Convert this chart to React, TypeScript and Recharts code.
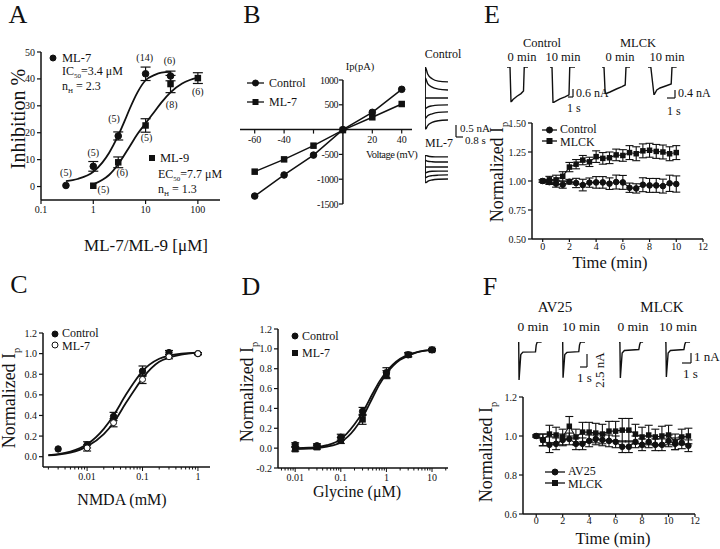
import React from "react";
import { ComposedChart, Line, XAxis, YAxis, ErrorBar, ReferenceDot, ReferenceLine } from "recharts";

const FONT = '"Liberation Serif", "Times New Roman", Times, serif';
const INK = "#111";

// ─── Panel A: inhibition dose-response ───────────────────────────────────────
const aMl7X = [0.3, 1, 3, 10, 30];
const aMl7Y = [0.4, 7.5, 18.8, 41.9, 41.1];
const aMl7Err = [0, 1.8, 1.5, 2.5, 1.8];
const aMl9X = [1, 3, 10, 30, 100];
const aMl9Y = [0.3, 9, 22.7, 38.1, 40.3];
const aMl9Err = [0, 2, 2.5, 3.2, 2];
const aMl7FitX = [0.3, 0.5, 1, 1.5, 2, 3, 4, 5, 7, 10, 15, 20, 30];
const aMl7FitY = [2, 2.8, 5.5, 9, 12.5, 19, 24.5, 29, 35, 39.5, 41.5, 42.3, 42.6];
const aMl9FitX = [1, 1.5, 2, 3, 5, 7, 10, 15, 20, 30, 50, 70, 100];
const aMl9FitY = [0.8, 2.5, 4.3, 8.3, 15, 19.5, 23.5, 28, 31.2, 35, 38.3, 39.6, 40.5];
const aNX = [0.3, 1, 2.5, 9.6, 28.8, 1.56, 3.6, 10.4, 31.6, 100];
const aNY = [5.2, 12.6, 25.2, 48.1, 46.7, -1.1, 5.2, 18.1, 30.4, 35.2];
const aNText = ["(5)", "(5)", "(5)", "(14)", "(6)", "(5)", "(6)", "(5)", "(8)", "(6)"];
const aXTicks = [0.1, 1, 10, 100];
const aYTicks = [0, 10, 20, 30, 40, 50];

// ─── Panel B: I-V relation ───────────────────────────────────────────────────
const bVolt = [-60, -40, -20, 0, 20, 40];
const bCtrl = [-1340, -915, -514, 0, 348, 812];
const bMl7 = [-848, -600, -324, -10, 248, 516];
const bXTicks = [-60, -40, -20, 20, 40];
const bXLabels = ["-60", "-40", "", "20", "40"];
const bYTicks = [1000, 500, -500, -1000, -1500];
const bTrT = [0, 0.03, 0.3, 0.8, 1.5, 2.6];
const bCtrlTr = [
  [0, 1.29, 1.0, 0.8, 0.7, 0.67],
  [0, 0.83, 0.6, 0.45, 0.37, 0.33],
  [0, 0, 0, 0, 0, 0],
  [0, -0.45, -0.38, -0.33, -0.3, -0.29],
  [0, -0.85, -0.74, -0.66, -0.6, -0.58],
  [0, -1.32, -1.15, -1.02, -0.95, -0.92],
];
const bMl7Tr = [
  [0, 0.5, 0.46, 0.43, 0.42, 0.42],
  [0, 0.28, 0.24, 0.22, 0.21, 0.21],
  [0, 0, 0, 0, 0, 0],
  [0, -0.25, -0.21, -0.18, -0.17, -0.17],
  [0, -0.45, -0.4, -0.36, -0.34, -0.33],
  [0, -0.68, -0.6, -0.54, -0.51, -0.5],
];

// ─── Panel C: NMDA ───────────────────────────────────────────────────────────
const cCtrlX = [0.003, 0.01, 0.03, 0.1, 0.3, 1];
const cCtrlY = [0.075, 0.115, 0.39, 0.83, 1.01, 1.0];
const cCtrlErr = [0, 0.03, 0.04, 0.05, 0.02, 0.01];
const cMl7X = [0.01, 0.03, 0.1, 0.3, 1];
const cMl7Y = [0.085, 0.33, 0.75, 0.97, 1.0];
const cMl7Err = [0.03, 0.04, 0.04, 0.02, 0.01];
const cFitX = [0.002, 0.003, 0.005, 0.01, 0.02, 0.03, 0.05, 0.07, 0.1, 0.2, 0.3, 0.5, 1];
const cCtrlFit = [0.015, 0.025, 0.05, 0.12, 0.27, 0.4, 0.6, 0.72, 0.83, 0.95, 0.98, 1.0, 1.01];
const cMl7Fit = [0.012, 0.02, 0.04, 0.1, 0.22, 0.33, 0.52, 0.64, 0.76, 0.92, 0.96, 0.99, 1.01];
const cMajor = [0.01, 0.1, 1];
const cYTicks = [0, 0.2, 0.4, 0.6, 0.8, 1.0, 1.2];

// ─── Panel D: glycine ────────────────────────────────────────────────────────
const dX = [0.01, 0.03, 0.1, 0.3, 1, 3, 10];
const dCtrlY = [0.034, 0.024, 0.11, 0.37, 0.76, 0.94, 0.99];
const dCtrlErr = [0.02, 0.02, 0.03, 0.04, 0.05, 0.02, 0.01];
const dMl7Y = [-0.01, 0.01, 0.077, 0.29, 0.74, 0.94, 0.99];
const dMl7Err = [0.02, 0.02, 0.03, 0.05, 0.04, 0.02, 0.01];
const dFitX = [0.01, 0.02, 0.03, 0.05, 0.1, 0.2, 0.3, 0.5, 0.7, 1, 2, 3, 5, 10];
const dCtrlFit = [0.0, 0.005, 0.01, 0.03, 0.09, 0.24, 0.36, 0.55, 0.67, 0.77, 0.9, 0.94, 0.97, 0.99];
const dMl7Fit = [-0.01, -0.005, 0.0, 0.015, 0.06, 0.19, 0.31, 0.51, 0.64, 0.75, 0.89, 0.93, 0.97, 0.99];
const dMajor = [0.01, 0.1, 1, 10];
const dYTicks = [-0.2, 0, 0.2, 0.4, 0.6, 0.8, 1.0, 1.2];

// ─── Panel E: MLCK time course ───────────────────────────────────────────────
const eTime = [0, 0.5, 1, 1.5, 2, 2.5, 3, 3.5, 4, 4.5, 5, 5.5, 6, 6.5, 7, 7.5, 8, 8.5, 9, 9.5, 10];
const eCtrl = [1.0, 0.99, 0.977, 0.968, 0.994, 0.983, 0.965, 0.986, 0.988, 0.988, 0.977, 0.991, 0.988, 0.942, 0.936, 0.968, 0.962, 0.962, 0.956, 0.98, 0.974];
const eCtrlErr = [0.01, 0.02, 0.03, 0.03, 0.02, 0.04, 0.05, 0.04, 0.05, 0.05, 0.05, 0.06, 0.06, 0.04, 0.04, 0.06, 0.06, 0.06, 0.06, 0.07, 0.07];
const eMlck = [1.0, 1.01, 1.01, 1.04, 1.12, 1.145, 1.18, 1.165, 1.21, 1.195, 1.2, 1.225, 1.22, 1.245, 1.235, 1.26, 1.265, 1.255, 1.25, 1.235, 1.245];
const eMlckErr = [0.01, 0.03, 0.04, 0.04, 0.04, 0.04, 0.04, 0.04, 0.05, 0.05, 0.05, 0.05, 0.05, 0.06, 0.06, 0.06, 0.06, 0.06, 0.06, 0.06, 0.06];
const eXTicks = [0, 2, 4, 6, 8, 10, 12];
const eYTicks = [0.5, 0.75, 1.0, 1.25, 1.5];
const eTr = [
  { left: 507, sx: 5, sy: 13.3, t: [0, 0.6, 0.8, 1.2, 2.0, 2.8, 3.3, 3.45, 4.2], v: [0, 0, -2.65, -2.45, -2.2, -2.0, -1.8, 0, 0] },
  { left: 550, sx: 5, sy: 13.3, t: [0, 0.4, 0.6, 1.0, 2.0, 3.0, 3.8, 3.95, 5.0], v: [0, 0, -2.7, -2.6, -2.4, -2.25, -2.1, 0, 0] },
  { left: 602, sx: 8, sy: 20, t: [0, 0.25, 0.4, 1.0, 1.8, 2.5, 2.9, 3.0, 3.5], v: [0, 0, -1.35, -1.25, -1.1, -0.98, -0.9, 0, 0] },
  { left: 648, sx: 8, sy: 20, t: [0, 0.35, 0.75, 1.1, 1.5, 2.2, 2.9, 3.0, 3.6], v: [0, 0, -1.4, -1.15, -1.05, -0.95, -0.85, 0, 0] },
];

// ─── Panel F: AV25 time course ───────────────────────────────────────────────
const fTime = [0, 0.5, 1, 1.5, 2, 2.5, 3, 3.5, 4, 4.5, 5, 5.5, 6, 6.5, 7, 7.5, 8, 8.5, 9, 9.5, 10, 10.5, 11, 11.5];
const fAv = [1.0, 0.98, 0.955, 0.96, 0.98, 0.985, 0.96, 0.96, 0.975, 0.985, 0.98, 0.975, 0.97, 0.945, 0.945, 0.97, 0.955, 0.97, 0.955, 0.955, 0.975, 0.96, 0.965, 0.95];
const fAvErr = [0.005, 0.03, 0.04, 0.03, 0.03, 0.03, 0.03, 0.03, 0.03, 0.03, 0.03, 0.03, 0.03, 0.03, 0.03, 0.03, 0.03, 0.03, 0.03, 0.03, 0.03, 0.03, 0.03, 0.03];
const fMlck = [1.0, 0.98, 1.01, 1.005, 0.995, 1.05, 0.995, 1.02, 1.02, 1.015, 1.01, 1.025, 1.025, 1.03, 1.03, 1.01, 0.995, 1.005, 0.995, 1.0, 1.005, 0.97, 0.995, 1.0];
const fMlckErr = [0.005, 0.03, 0.045, 0.04, 0.04, 0.05, 0.04, 0.05, 0.05, 0.05, 0.05, 0.05, 0.05, 0.06, 0.06, 0.05, 0.05, 0.05, 0.04, 0.05, 0.05, 0.04, 0.04, 0.04];
const fXTicks = [0, 2, 4, 6, 8, 10, 12];
const fYTicks = [0.6, 0.8, 1.0, 1.2];
const fTr = [
  { left: 518, sx: 7, sy: 5.2, t: [0, 0.1, 0.15, 0.4, 0.7, 2.5, 2.6, 2.75, 3.4], v: [0, 0, -7.3, -2.4, -1.95, -1.9, -0.6, 0, 0] },
  { left: 562, sx: 7, sy: 5.2, t: [0, 0.1, 0.15, 0.4, 0.7, 2.4, 2.5, 2.65, 3.3], v: [0, 0, -6.9, -2.4, -2.0, -1.85, -0.6, 0, 0] },
  { left: 619, sx: 9, sy: 10, t: [0, 0.1, 0.15, 0.35, 0.6, 2.2, 2.3, 2.4, 2.7], v: [0, 0, -3.6, -1.1, -0.85, -0.75, -0.25, 0, 0] },
  { left: 665, sx: 9, sy: 10, t: [0, 0.1, 0.15, 0.35, 0.6, 2.1, 2.2, 2.3, 2.8], v: [0, 0, -3.5, -1.1, -0.85, -0.75, -0.25, 0, 0] },
];

// ─── Helpers ─────────────────────────────────────────────────────────────────
const pts = (xs: number[], ys: number[], es?: number[]) =>
  xs.map((x, i) => ({ x, y: ys[i], e: es ? es[i] : 0 }));

const circ = (r: number, fill = INK) => (p: any) =>
  <circle key={p.index} cx={p.cx} cy={p.cy} r={r} fill={fill} stroke={INK} strokeWidth={1} />;
const sq = (s: number) => (p: any) =>
  <rect key={p.index} x={p.cx - s / 2} y={p.cy - s / 2} width={s} height={s} fill={INK} />;

const axisLine = { stroke: INK, strokeWidth: 1.5 };
const tickLine = { stroke: INK, strokeWidth: 1.2 };
const tickStyle = { fontSize: 10, fill: INK, fontFamily: FONT };

const logTick = (majors: number[]) => (p: any) => {
  const v = p.payload.value;
  const major = majors.some((m) => Math.abs(m - v) / m < 1e-6);
  return (
    <g>
      <line x1={p.x} x2={p.x} y1={p.y} y2={p.y + (major ? 4 : 2.5)} stroke={INK} strokeWidth={1} />
      {major && <text x={p.x} y={p.y + 13} textAnchor="middle" fontSize={10} fill={INK} fontFamily={FONT}>{String(v)}</text>}
    </g>
  );
};
const minors = (decades: number[]) => decades.flatMap((d) => [2, 3, 4, 5, 6, 7, 8, 9].map((k) => k * d));

function T({ x, y, size = 13, anchor = "start", rot = 0, children }: any) {
  const tx = anchor === "middle" ? "-50%" : anchor === "end" ? "-100%" : "0";
  return (
    <div style={{ position: "absolute", left: x, top: y, fontSize: size, lineHeight: 1, whiteSpace: "nowrap", fontFamily: FONT, transform: `translate(${tx}, -50%) rotate(${rot}deg)` }}>
      {children}
    </div>
  );
}
const Sub = ({ children }: any) => <sub style={{ fontSize: "0.58em", lineHeight: 0 }}>{children}</sub>;

function Sym({ x, y, kind, line = 0 }: { x: number; y: number; kind: "c" | "o" | "s"; line?: number }) {
  const w = line || 8;
  return (
    <svg style={{ position: "absolute", left: x - w / 2, top: y - 5, overflow: "visible" }} width={w} height={10}>
      {line ? <line x1={0} x2={w} y1={5} y2={5} stroke={INK} strokeWidth={1.3} /> : null}
      {kind === "s"
        ? <rect x={w / 2 - 3} y={2} width={6} height={6} fill={INK} />
        : <circle cx={w / 2} cy={5} r={3} fill={kind === "o" ? "#fff" : INK} stroke={INK} strokeWidth={1} />}
    </svg>
  );
}

function Bar({ x, y1, y2, hx }: { x: number; y1: number; y2: number; hx: number }) {
  const l = Math.min(x, hx) - 1, t = y1 - 1;
  return (
    <svg style={{ position: "absolute", left: l, top: t }} width={Math.abs(hx - x) + 2} height={y2 - y1 + 2}>
      <line x1={x - l} x2={x - l} y1={1} y2={y2 - t} stroke={INK} strokeWidth={1.2} />
      <line x1={x - l} x2={hx - l} y1={y2 - t} y2={y2 - t} stroke={INK} strokeWidth={1.2} />
    </svg>
  );
}

function Traces({ left, base, sx, sy, t, vs, smooth = false }: { left: number; base: number; sx: number; sy: number; t: number[]; vs: number[][]; smooth?: boolean }) {
  const pad = 2;
  const tMax = Math.max(...t);
  const all = vs.flat();
  const vMax = Math.max(0, ...all), vMin = Math.min(0, ...all);
  return (
    <div style={{ position: "absolute", left: left - pad, top: base - vMax * sy - pad }}>
      <ComposedChart width={tMax * sx + pad * 2} height={(vMax - vMin) * sy + pad * 2} margin={{ top: pad, right: pad, bottom: pad, left: pad }}>
        <XAxis type="number" dataKey="x" domain={[0, tMax]} allowDataOverflow hide />
        <YAxis type="number" domain={[vMin, vMax]} allowDataOverflow hide />
        {vs.map((v, i) => (
          <Line key={i} data={pts(t, v)} dataKey="y" type={smooth ? "monotone" : "linear"} stroke={INK} strokeWidth={1.4} dot={false} activeDot={false} isAnimationActive={false} />
        ))}
      </ComposedChart>
    </div>
  );
}

const Ylab = ({ x, y }: { x: number; y: number }) => (
  <T x={x} y={y} size={18} anchor="middle" rot={-90}>Normalized I<Sub>p</Sub></T>
);

// ─── Charts ──────────────────────────────────────────────────────────────────
function PanelA() {
  return (
    <div style={{ position: "absolute", left: 0, top: 40 }}>
      <ComposedChart width={230} height={190} margin={{ top: 12, right: 10, bottom: 0, left: 0 }}>
        <XAxis type="number" dataKey="x" scale="log" domain={[0.1, 265]} allowDataOverflow ticks={aXTicks} interval={0}
          tickFormatter={(v) => String(v)} axisLine={axisLine} tickLine={tickLine} tick={tickStyle} height={30} tickSize={4} />
        <YAxis type="number" domain={[-5, 50]} allowDataOverflow ticks={aYTicks} interval={0} width={41}
          axisLine={axisLine} tickLine={tickLine} tick={tickStyle} tickSize={4} />
        <Line data={pts(aMl7FitX, aMl7FitY)} dataKey="y" type="monotone" stroke={INK} strokeWidth={1.8} dot={false} activeDot={false} isAnimationActive={false} />
        <Line data={pts(aMl9FitX, aMl9FitY)} dataKey="y" type="monotone" stroke={INK} strokeWidth={1.8} dot={false} activeDot={false} isAnimationActive={false} />
        <Line data={pts(aMl7X, aMl7Y, aMl7Err)} dataKey="y" stroke="none" dot={circ(3.3)} activeDot={false} isAnimationActive={false}>
          <ErrorBar dataKey="e" width={5} stroke={INK} strokeWidth={1.2} direction="y" />
        </Line>
        <Line data={pts(aMl9X, aMl9Y, aMl9Err)} dataKey="y" stroke="none" dot={sq(6.5)} activeDot={false} isAnimationActive={false}>
          <ErrorBar dataKey="e" width={5} stroke={INK} strokeWidth={1.2} direction="y" />
        </Line>
        {aNText.map((s, i) => (
          <ReferenceDot key={i} x={aNX[i]} y={aNY[i]} r={0}
            shape={(p: any) => <text x={p.cx} y={p.cy} textAnchor="middle" dominantBaseline="central" fontSize={10} fill={INK} fontFamily={FONT}>{s}</text>} />
        ))}
      </ComposedChart>
    </div>
  );
}

function PanelB() {
  return (
    <div style={{ position: "absolute", left: 230, top: 70 }}>
      <ComposedChart width={192} height={144} margin={{ top: 10, right: 10, bottom: 10, left: 10 }}>
        <XAxis type="number" dataKey="x" domain={[-70, 47]} allowDataOverflow hide />
        <YAxis type="number" domain={[-1500, 1000]} allowDataOverflow hide />
        <ReferenceLine y={0} stroke={INK} strokeWidth={1.5} />
        <ReferenceLine x={0} stroke={INK} strokeWidth={1.5} />
        {bXTicks.map((t, i) => (
          <ReferenceDot key={"x" + i} x={t} y={0} r={0}
            shape={(p: any) => (
              <g>
                <line x1={p.cx} x2={p.cx} y1={p.cy} y2={p.cy + 4} stroke={INK} strokeWidth={1.2} />
                <text x={p.cx} y={p.cy + 10} textAnchor="middle" dominantBaseline="central" fontSize={10} fill={INK} fontFamily={FONT}>{bXLabels[i]}</text>
              </g>
            )} />
        ))}
        {bYTicks.map((v, i) => (
          <ReferenceDot key={"y" + i} x={0} y={v} r={0}
            shape={(p: any) => (
              <g>
                <line x1={p.cx - 4} x2={p.cx} y1={p.cy} y2={p.cy} stroke={INK} strokeWidth={1.2} />
                <text x={p.cx - 5} y={p.cy} textAnchor="end" dominantBaseline="central" fontSize={10} fill={INK} fontFamily={FONT} letterSpacing={-0.5}>{v}</text>
              </g>
            )} />
        ))}
        <Line data={pts(bVolt, bCtrl)} dataKey="y" type="linear" stroke={INK} strokeWidth={1.5} dot={circ(3.3)} activeDot={false} isAnimationActive={false} />
        <Line data={pts(bVolt, bMl7)} dataKey="y" type="linear" stroke={INK} strokeWidth={1.5} dot={sq(6.5)} activeDot={false} isAnimationActive={false} />
      </ComposedChart>
    </div>
  );
}

function PanelC() {
  return (
    <div style={{ position: "absolute", left: 0, top: 323 }}>
      <ComposedChart width={215} height={169} margin={{ top: 10, right: 5, bottom: 0, left: 0 }}>
        <XAxis type="number" dataKey="x" scale="log" domain={[0.0016, 1.65]} allowDataOverflow
          ticks={[...cMajor, ...minors([0.001, 0.01, 0.1])]} interval={0} axisLine={axisLine} tickLine={false}
          tickSize={0} tickMargin={0} tick={logTick(cMajor)} height={25} />
        <YAxis type="number" domain={[-0.1, 1.2]} allowDataOverflow ticks={cYTicks} interval={0} width={43}
          tickFormatter={(v) => v.toFixed(1)} axisLine={axisLine} tickLine={tickLine} tick={tickStyle} tickSize={4} />
        <Line data={pts(cFitX, cCtrlFit)} dataKey="y" type="monotone" stroke={INK} strokeWidth={1.8} dot={false} activeDot={false} isAnimationActive={false} />
        <Line data={pts(cFitX, cMl7Fit)} dataKey="y" type="monotone" stroke={INK} strokeWidth={1.8} dot={false} activeDot={false} isAnimationActive={false} />
        <Line data={pts(cCtrlX, cCtrlY, cCtrlErr)} dataKey="y" stroke="none" dot={circ(3.2)} activeDot={false} isAnimationActive={false}>
          <ErrorBar dataKey="e" width={4} stroke={INK} strokeWidth={1.2} direction="y" />
        </Line>
        <Line data={pts(cMl7X, cMl7Y, cMl7Err)} dataKey="y" stroke="none" dot={circ(3, "#fff")} activeDot={false} isAnimationActive={false}>
          <ErrorBar dataKey="e" width={4} stroke={INK} strokeWidth={1.2} direction="y" />
        </Line>
      </ComposedChart>
    </div>
  );
}

function PanelD() {
  return (
    <div style={{ position: "absolute", left: 240, top: 319 }}>
      <ComposedChart width={213} height={174} margin={{ top: 10, right: 5, bottom: 0, left: 0 }}>
        <XAxis type="number" dataKey="x" scale="log" domain={[0.0042, 22.4]} allowDataOverflow
          ticks={[...dMajor, ...minors([0.001, 0.01, 0.1, 1, 10]).filter((v) => v > 0.0042 && v < 22.4)]} interval={0}
          axisLine={axisLine} tickLine={false} tickSize={0} tickMargin={0} tick={logTick(dMajor)} height={25} />
        <YAxis type="number" domain={[-0.2, 1.2]} allowDataOverflow ticks={dYTicks} interval={0} width={38}
          tickFormatter={(v) => v.toFixed(1)} axisLine={axisLine} tickLine={tickLine} tick={tickStyle} tickSize={4} />
        <Line data={pts(dFitX, dCtrlFit)} dataKey="y" type="monotone" stroke={INK} strokeWidth={1.8} dot={false} activeDot={false} isAnimationActive={false} />
        <Line data={pts(dFitX, dMl7Fit)} dataKey="y" type="monotone" stroke={INK} strokeWidth={1.8} dot={false} activeDot={false} isAnimationActive={false} />
        <Line data={pts(dX, dCtrlY, dCtrlErr)} dataKey="y" stroke="none" dot={circ(3.2)} activeDot={false} isAnimationActive={false}>
          <ErrorBar dataKey="e" width={4} stroke={INK} strokeWidth={1.2} direction="y" />
        </Line>
        <Line data={pts(dX, dMl7Y, dMl7Err)} dataKey="y" stroke="none" dot={sq(6.5)} activeDot={false} isAnimationActive={false}>
          <ErrorBar dataKey="e" width={4} stroke={INK} strokeWidth={1.2} direction="y" />
        </Line>
      </ComposedChart>
    </div>
  );
}

function PanelE() {
  const rows = eTime.map((t, i) => ({ x: t, c: eCtrl[i], ce: eCtrlErr[i], m: eMlck[i], me: eMlckErr[i] }));
  return (
    <div style={{ position: "absolute", left: 480, top: 113 }}>
      <ComposedChart data={rows} width={233} height={151} margin={{ top: 10, right: 10, bottom: 0, left: 0 }}>
        <XAxis type="number" dataKey="x" domain={[-0.8, 12]} allowDataOverflow ticks={eXTicks} interval={0}
          axisLine={axisLine} tickLine={tickLine} tick={tickStyle} tickSize={3} tickMargin={1} height={25} />
        <YAxis type="number" domain={[0.5, 1.5]} allowDataOverflow ticks={eYTicks} interval={0} width={52}
          tickFormatter={(v) => v.toFixed(2)} axisLine={axisLine} tickLine={tickLine} tick={tickStyle} tickSize={4} />
        <Line dataKey="c" type="linear" stroke={INK} strokeWidth={1.1} dot={circ(2.8)} activeDot={false} isAnimationActive={false}>
          <ErrorBar dataKey="ce" width={4} stroke={INK} strokeWidth={1.1} direction="y" />
        </Line>
        <Line dataKey="m" type="linear" stroke={INK} strokeWidth={1.1} dot={sq(5.5)} activeDot={false} isAnimationActive={false}>
          <ErrorBar dataKey="me" width={4} stroke={INK} strokeWidth={1.1} direction="y" />
        </Line>
      </ComposedChart>
    </div>
  );
}

function PanelF() {
  const rows = fTime.map((t, i) => ({ x: t, a: fAv[i], ae: fAvErr[i], m: fMlck[i], me: fMlckErr[i] }));
  return (
    <div style={{ position: "absolute", left: 480, top: 387 }}>
      <ComposedChart data={rows} width={225} height={152} margin={{ top: 10, right: 10, bottom: 0, left: 0 }}>
        <XAxis type="number" dataKey="x" domain={[-1, 12]} allowDataOverflow ticks={fXTicks} interval={0}
          axisLine={axisLine} tickLine={tickLine} tick={tickStyle} tickSize={3} tickMargin={0} height={25} />
        <YAxis type="number" domain={[0.6, 1.2]} allowDataOverflow ticks={fYTicks} interval={0} width={43}
          tickFormatter={(v) => v.toFixed(1)} axisLine={axisLine} tickLine={tickLine} tick={tickStyle} tickSize={4} />
        <Line dataKey="a" type="linear" stroke={INK} strokeWidth={1.1} dot={circ(2.8)} activeDot={false} isAnimationActive={false}>
          <ErrorBar dataKey="ae" width={4} stroke={INK} strokeWidth={1.1} direction="y" />
        </Line>
        <Line dataKey="m" type="linear" stroke={INK} strokeWidth={1.1} dot={sq(5.5)} activeDot={false} isAnimationActive={false}>
          <ErrorBar dataKey="me" width={4} stroke={INK} strokeWidth={1.1} direction="y" />
        </Line>
      </ComposedChart>
    </div>
  );
}

export default function App() {
  return (
    <div style={{ position: "absolute", left: 0, top: 0, width: 720, height: 549, background: "#fff", color: INK, fontFamily: FONT, overflow: "hidden" }}>
      <PanelA />
      <PanelB />
      <PanelC />
      <PanelD />
      <PanelE />
      <PanelF />

      {/* traces */}
      <Traces left={425} base={98} sx={8.85} sy={24} t={bTrT} vs={bCtrlTr} smooth />
      <Traces left={425} base={167} sx={8.85} sy={24} t={bTrT} vs={bMl7Tr} smooth />
      {eTr.map((tr, i) => <Traces key={"e" + i} left={tr.left} base={67} sx={tr.sx} sy={tr.sy} t={tr.t} vs={[tr.v]} />)}
      {fTr.map((tr, i) => <Traces key={"f" + i} left={tr.left} base={342} sx={tr.sx} sy={tr.sy} t={tr.t} vs={[tr.v]} />)}
      <Bar x={456} y1={125} y2={137} hx={463} />
      <Bar x={573} y1={89} y2={97} hx={568} />
      <Bar x={675} y1={90} y2={98} hx={667} />
      <Bar x={587} y1={354} y2={367} hx={580} />
      <Bar x={691} y1={353} y2={363} hx={682} />

      {/* panel letters */}
      <T x={18} y={15} size={26} anchor="middle">A</T>
      <T x={252} y={15} size={26} anchor="middle">B</T>
      <T x={492} y={15} size={26} anchor="middle">E</T>
      <T x={19} y={285} size={26} anchor="middle">C</T>
      <T x={251} y={287} size={26} anchor="middle">D</T>
      <T x={490} y={287} size={26} anchor="middle">F</T>

      {/* A */}
      <Sym x={53} y={58} kind="c" />
      <T x={62} y={58} size={12.5}>ML-7</T>
      <T x={62} y={71} size={12}>IC<Sub>50</Sub>=3.4 μM</T>
      <T x={62} y={86} size={12}>n<Sub>H</Sub> = 2.3</T>
      <Sym x={152} y={158} kind="s" />
      <T x={160} y={158} size={12.5}>ML-9</T>
      <T x={158} y={174} size={12}>EC<Sub>50</Sub>=7.7 μM</T>
      <T x={158} y={189} size={12}>n<Sub>H</Sub> = 1.3</T>
      <T x={18} y={119} size={20} anchor="middle" rot={-90}>Inhibition %</T>
      <T x={146} y={245} size={17} anchor="middle">ML-7/ML-9 [μM]</T>

      {/* B */}
      <T x={360} y={67} size={10.5} anchor="middle">Ip(pA)</T>
      <T x={366} y={155} size={10.5}><span style={{ letterSpacing: -0.5 }}>Voltage (mV)</span></T>
      <Sym x={255.5} y={83} kind="c" line={17} />
      <T x={269} y={83} size={12}>Control</T>
      <Sym x={255.5} y={102} kind="s" line={17} />
      <T x={269} y={102} size={12}>ML-7</T>
      <T x={443} y={54} size={12} anchor="middle">Control</T>
      <T x={439} y={143} size={12} anchor="middle">ML-7</T>
      <T x={460} y={128} size={11}>0.5 nA</T>
      <T x={465} y={140} size={11}>0.8 s</T>

      {/* C */}
      <Sym x={55} y={334} kind="c" />
      <T x={62} y={333} size={12}>Control</T>
      <Sym x={55} y={345} kind="o" />
      <T x={62} y={346} size={12}>ML-7</T>
      <Ylab x={9} y={398} />
      <T x={122} y={500} size={16} anchor="middle">NMDA (mM)</T>

      {/* D */}
      <Sym x={295} y={336} kind="c" />
      <T x={302} y={336} size={12}>Control</T>
      <Sym x={295} y={353} kind="s" />
      <T x={302} y={353} size={12}>ML-7</T>
      <Ylab x={247} y={392} />
      <T x={357} y={492} size={16} anchor="middle">Glycine (μM)</T>

      {/* E */}
      <T x={542} y={43} size={12.5} anchor="middle">Control</T>
      <T x={638} y={43} size={12.5} anchor="middle">MLCK</T>
      <T x={522} y={57} size={12.5} anchor="middle">0 min</T>
      <T x={563} y={57} size={12.5} anchor="middle">10 min</T>
      <T x={620} y={57} size={12.5} anchor="middle">0 min</T>
      <T x={667} y={57} size={12.5} anchor="middle">10 min</T>
      <T x={576} y={93} size={12}>0.6 nA</T>
      <T x={567} y={108} size={12}>1 s</T>
      <T x={678} y={93} size={12}>0.4 nA</T>
      <T x={667} y={111} size={12}>1 s</T>
      <Sym x={549.5} y={130} kind="c" line={15} />
      <T x={560} y={129} size={12}>Control</T>
      <Sym x={549.5} y={141} kind="s" line={15} />
      <T x={560} y={142} size={12}>MLCK</T>
      <Ylab x={497} y={172} />
      <T x={610} y={263} size={16.5} anchor="middle">Time (min)</T>

      {/* F */}
      <T x={555} y={307} size={15} anchor="middle">AV25</T>
      <T x={662} y={307} size={15} anchor="middle">MLCK</T>
      <T x={533} y={327} size={13.5} anchor="middle">0 min</T>
      <T x={581} y={327} size={13.5} anchor="middle">10 min</T>
      <T x={633} y={327} size={13.5} anchor="middle">0 min</T>
      <T x={678} y={327} size={13.5} anchor="middle">10 min</T>
      <T x={577} y={377} size={13}>1 s</T>
      <T x={599} y={370} size={13} anchor="middle" rot={-90}>2.5 nA</T>
      <T x={694} y={356} size={13}>1 nA</T>
      <T x={683} y={373} size={13}>1 s</T>
      <Sym x={555} y={472} kind="c" line={20} />
      <T x={568} y={471} size={12}>AV25</T>
      <Sym x={555} y={483} kind="s" line={20} />
      <T x={568} y={484} size={12}>MLCK</T>
      <Ylab x={486} y={452} />
      <T x={613} y={539} size={16.5} anchor="middle">Time (min)</T>
    </div>
  );
}
